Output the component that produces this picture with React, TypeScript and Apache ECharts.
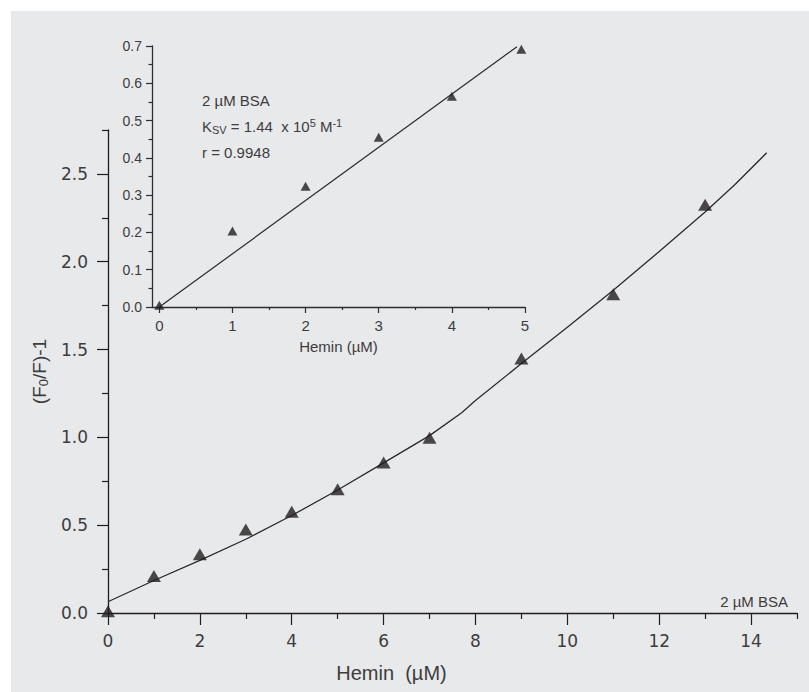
import React, { useEffect, useRef } from "react";
import * as echarts from "echarts";

// ---- data ----
const mainHemin = [0, 1, 2, 3, 4, 5, 6, 7, 9, 11, 13];
const mainQuench = [0.01, 0.21, 0.335, 0.475, 0.577, 0.704, 0.857, 0.998, 1.449, 1.815, 2.325];
const mainFitHemin = [0, 1, 2, 3, 4, 5, 6, 7, 7.7, 8, 9, 10, 11, 12, 13, 13.65, 14.34];
const mainFitQuench = [0.064, 0.185, 0.3, 0.42, 0.555, 0.7, 0.855, 1.01, 1.14, 1.21, 1.42, 1.627, 1.838, 2.058, 2.283, 2.44, 2.62];

const insetHemin = [0, 1, 2, 3, 4, 4.95];
const insetQuench = [0.005, 0.204, 0.324, 0.455, 0.565, 0.691];
const insetFitHemin = [0, 4.89];
const insetFitQuench = [0, 0.698];

// ---- ticks ----
const mainXMajor = [0, 2, 4, 6, 8, 10, 12, 14];
const mainXMinor = [1, 3, 5, 7, 9, 11, 13, 15];
const mainYMajor = [0, 0.5, 1, 1.5, 2, 2.5];
const mainYMinor = [0.25, 0.75, 1.25, 1.75, 2.25, 2.75];
const insetXMajor = [0, 1, 2, 3, 4, 5];
const insetXMinor = [0.5, 1.5, 2.5, 3.5, 4.5];
const insetYMajor = [0, 0.1, 0.2, 0.3, 0.4, 0.5, 0.6, 0.7];
const insetYMinor = [0.05, 0.15, 0.25, 0.35, 0.45, 0.55, 0.65];

const zip = (a: number[], b: number[]) => a.map((v, i) => [v, b[i]]);

const INK = "#1f1d1e";
const TXT = "#3d3d3d";
const TICKFONT = "'DejaVu Sans', sans-serif";
const SANS = "'Liberation Sans', Arial, sans-serif";

function valAxis(opts: any) {
  const {
    gridIndex, min, max, ticks, labels, len, position, lineColor, showLine,
    labelFont, labelSize, labelMargin, fmt, name, nameGap, nameStyle,
  } = opts;
  return {
    type: "value",
    gridIndex,
    min,
    max,
    position,
    offset: 0,
    splitLine: { show: false },
    axisLine: { show: showLine, onZero: false, lineStyle: { color: lineColor, width: 1.3 } },
    axisTick: {
      show: true,
      inside: false,
      length: len,
      customValues: ticks,
      lineStyle: { color: lineColor, width: 1.2 },
    },
    axisLabel: labels
      ? {
          show: true,
          customValues: labels,
          margin: labelMargin,
          color: TXT,
          fontFamily: labelFont,
          fontSize: labelSize,
          formatter: fmt,
        }
      : { show: false },
    name: name || "",
    nameLocation: "middle",
    nameGap: nameGap || 0,
    nameTextStyle: nameStyle || {},
    axisPointer: { show: false },
  };
}

export default function App() {
  const ref = useRef<HTMLDivElement>(null);
  useEffect(() => {
    if (!ref.current) return;
    const chart = echarts.init(ref.current, undefined, { renderer: "svg" });
    const option: any = {
      animation: false,
      backgroundColor: "transparent",
      grid: [
        { left: 108, top: 130, width: 689, height: 483, containLabel: false },
        { left: 152, top: 46, width: 373, height: 261, containLabel: false },
      ],
      xAxis: [
        valAxis({
          gridIndex: 0, min: 0, max: 15, ticks: mainXMajor, labels: mainXMajor, len: 12,
          position: "bottom", lineColor: INK, showLine: true, labelFont: TICKFONT, labelSize: 17,
          labelMargin: 19, fmt: (v: number) => String(v),
          name: "Hemin  (\u00b5M)", nameGap: 50,
          nameStyle: { fontFamily: SANS, fontSize: 20, color: TXT, padding: [0, 122, 0, 0] },
        }),
        valAxis({
          gridIndex: 0, min: 0, max: 15, ticks: mainXMinor, labels: null, len: 6,
          position: "bottom", lineColor: INK, showLine: false,
        }),
        valAxis({
          gridIndex: 1, min: -0.1, max: 5, ticks: insetXMajor, labels: insetXMajor, len: 6,
          position: "bottom", lineColor: "#2e2e2e", showLine: true, labelFont: SANS, labelSize: 15,
          labelMargin: 11, fmt: (v: number) => String(v),
          name: "Hemin (\u00b5M)", nameGap: 32,
          nameStyle: { fontFamily: SANS, fontSize: 15, color: TXT },
        }),
        valAxis({
          gridIndex: 1, min: -0.1, max: 5, ticks: insetXMinor, labels: null, len: 3,
          position: "bottom", lineColor: "#2e2e2e", showLine: false,
        }),
      ],
      yAxis: [
        valAxis({
          gridIndex: 0, min: 0, max: 2.75, ticks: mainYMajor, labels: mainYMajor, len: 11,
          position: "left", lineColor: INK, showLine: true, labelFont: TICKFONT, labelSize: 17,
          labelMargin: 20, fmt: (v: number) => v.toFixed(1),
          name: "(F{sub|0}/F)-1", nameGap: 46,
          nameStyle: {
            fontFamily: SANS, fontSize: 19, color: TXT,
            rich: {
              sub: { fontFamily: SANS, fontSize: 13, color: TXT, padding: [8, 0, 0, 0] },
            },
          },
        }),
        valAxis({
          gridIndex: 0, min: 0, max: 2.75, ticks: mainYMinor, labels: null, len: 6,
          position: "left", lineColor: INK, showLine: false,
        }),
        valAxis({
          gridIndex: 1, min: 0, max: 0.7, ticks: insetYMajor, labels: insetYMajor, len: 6,
          position: "left", lineColor: "#2e2e2e", showLine: true, labelFont: SANS, labelSize: 14,
          labelMargin: 10, fmt: (v: number) => v.toFixed(1),
        }),
        valAxis({
          gridIndex: 1, min: 0, max: 0.7, ticks: insetYMinor, labels: null, len: 3.5,
          position: "left", lineColor: "#2e2e2e", showLine: false,
        }),
      ],
      series: [
        {
          type: "line",
          xAxisIndex: 0,
          yAxisIndex: 0,
          data: zip(mainFitHemin, mainFitQuench),
          showSymbol: false,
          symbol: "none",
          lineStyle: { color: "#2a2a2a", width: 1.3 },
          silent: true,
          z: 2,
        },
        {
          type: "scatter",
          xAxisIndex: 0,
          yAxisIndex: 0,
          data: zip(mainHemin, mainQuench),
          symbol: "triangle",
          symbolSize: [14, 12],
          itemStyle: { color: INK },
          silent: true,
          z: 3,
        },
        {
          type: "line",
          xAxisIndex: 2,
          yAxisIndex: 2,
          data: zip(insetFitHemin, insetFitQuench),
          showSymbol: false,
          symbol: "none",
          lineStyle: { color: "#2a2a2a", width: 1.2 },
          silent: true,
          z: 2,
        },
        {
          type: "scatter",
          xAxisIndex: 2,
          yAxisIndex: 2,
          data: zip(insetHemin, insetQuench),
          symbol: "triangle",
          symbolSize: [10, 9],
          itemStyle: { color: INK },
          silent: true,
          z: 3,
        },
      ],
      graphic: [
        {
          type: "text",
          left: 202,
          top: 93,
          style: { text: "2 \u00b5M BSA", fontFamily: SANS, fontSize: 15, fill: TXT },
        },
        {
          type: "text",
          left: 202,
          top: 117,
          style: {
            text: "{a|K}{s|SV}{a| = 1.44  x 10}{p|5}{a| M}{p|-1}",
            rich: {
              a: { fontFamily: SANS, fontSize: 15, fill: TXT, color: TXT },
              s: { fontFamily: SANS, fontSize: 11, fill: TXT, color: TXT, padding: [7, 0, 0, 0] },
              p: { fontFamily: SANS, fontSize: 11, fill: TXT, color: TXT, padding: [0, 0, 7, 0] },
            },
          },
        },
        {
          type: "text",
          left: 202,
          top: 145,
          style: { text: "r = 0.9948", fontFamily: SANS, fontSize: 15, fill: TXT },
        },
        {
          type: "text",
          right: 21,
          top: 594,
          style: { text: "2 \u00b5M BSA", fontFamily: SANS, fontSize: 15, fill: TXT },
        },
      ],
    };
    chart.setOption(option);
    return () => chart.dispose();
  }, []);

  return (
    <div style={{ position: "fixed", left: 0, top: 0, width: 809, height: 692, background: "#ffffff" }}>
      <div style={{ position: "absolute", left: 11, top: 11, width: 798, height: 681, background: "#e8e9eb" }} />
      <div ref={ref} style={{ position: "absolute", left: 0, top: 0, width: 809, height: 692 }} />
    </div>
  );
}
